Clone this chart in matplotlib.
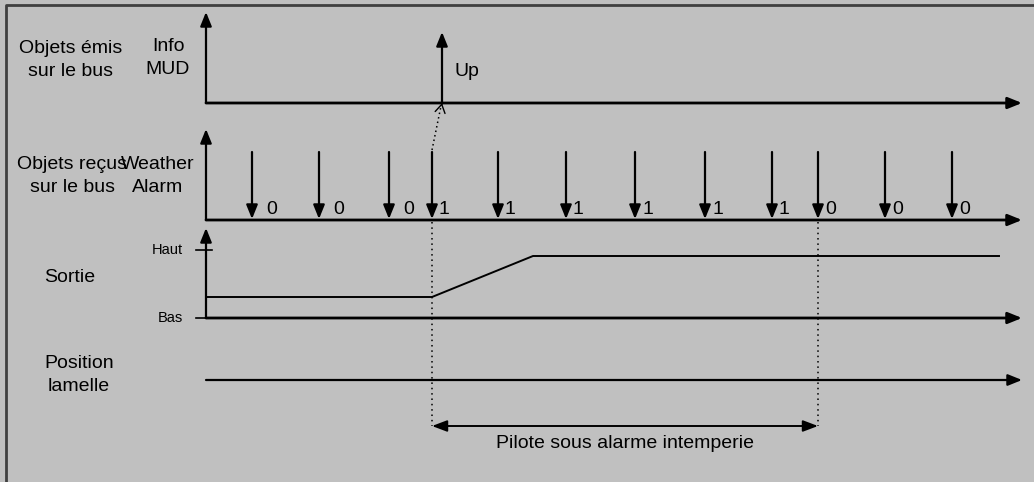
import matplotlib
matplotlib.use("Agg")
import matplotlib.pyplot as plt

plt.rcParams['font.family'] = ['Liberation Sans', 'DejaVu Sans']

# temps des trames "Weather Alarm" recues (en px sur l'axe du temps) et leur valeur
alarm_t = [252, 319, 389, 432, 498, 566, 635, 705, 772, 818, 885, 952]
alarm_val = [0, 0, 0, 1, 1, 1, 1, 1, 1, 0, 0, 0]

# trame "Info MUD" emise
mud_t = 442
mud_txt = "Up"

# sortie: bas -> haut (rampe)
sortie_t = [206, 432, 533, 999]
sortie_y = [297, 297, 256, 256]

# periode sous alarme
alarme_debut = 432
alarme_fin = 818

fig = plt.figure(figsize=(10.34, 4.82), dpi=100)
fig.patch.set_facecolor('#c0c0c0')
ax = fig.add_axes([0, 0, 1, 1])
ax.set_xlim(0, 1034)
ax.set_ylim(482, 0)
ax.axis('off')

# bordure (gauche + haut)
ax.plot([6, 6, 1040], [490, 5, 5], color='#404040', lw=2)

FS = 14
LS = 1.45
x0 = 206
x_end = 1022


def fleche(x1, y1, x2, y2, lw=1.6, style='-|>', ms=20):
    ax.annotate('', xy=(x2, y2), xytext=(x1, y1),
                arrowprops=dict(arrowstyle=style + ',head_length=0.42,head_width=0.17',
                                mutation_scale=ms, lw=lw, color='black',
                                shrinkA=0, shrinkB=0))


# axes des 4 lignes
for yb, ytop in [(103, 12), (220, 129), (318, 228)]:
    fleche(x0, yb, x0, ytop, lw=1.6)
    fleche(x0, yb, x_end, yb, lw=2)
fleche(x0, 380, x_end, 380, lw=1.6)

# libelles
ax.text(71, 60, "Objets émis\nsur le bus", fontsize=FS, ha='center', va='center', linespacing=LS)
ax.text(168, 58, "Info\nMUD", fontsize=FS, ha='center', va='center', linespacing=LS)
ax.text(72, 176, "Objets reçus\nsur le bus", fontsize=FS, ha='center', va='center', linespacing=LS)
ax.text(158, 176, "Weather\nAlarm", fontsize=FS, ha='center', va='center', linespacing=LS)
ax.text(70, 277, "Sortie", fontsize=FS, ha='center', va='center')
ax.text(79, 375, "Position\nlamelle", fontsize=FS, ha='center', va='center', linespacing=LS)

# Info MUD emis
fleche(mud_t, 103, mud_t, 32)
ax.text(mud_t + 12, 72, mud_txt, fontsize=FS, ha='left', va='center')

# Weather Alarm recus
for i, (t, v) in enumerate(zip(alarm_t, alarm_val)):
    fleche(t, 152, t, 219)
    dx = 14 if i < 3 else 7
    ax.text(t + dx, 209, str(v), fontsize=FS, ha='left', va='center')

# lien pointille alarme -> Info MUD
ax.plot([alarme_debut, mud_t - 1], [150, 106], color='black', lw=1.1, ls=(0, (1, 2)))
ax.annotate('', xy=(mud_t, 103), xytext=(mud_t - 0.3, 104.5),
            arrowprops=dict(arrowstyle='->,head_length=0.5,head_width=0.3',
                            mutation_scale=12, lw=1, color='black',
                            shrinkA=0, shrinkB=0))

# Sortie
ax.plot([196, 212], [250, 250], color='black', lw=1.2)
ax.plot([196, 212], [318, 318], color='black', lw=1.2)
ax.text(183, 250, "Haut", fontsize=10.5, ha='right', va='center')
ax.text(183, 318, "Bas", fontsize=10.5, ha='right', va='center')
ax.plot(sortie_t, sortie_y, color='black', lw=1.4)

# periode sous alarme
for t in (alarme_debut, alarme_fin):
    ax.plot([t, t], [222, 426], color='black', lw=1.1, ls=(0, (1, 2.5)))
ax.annotate('', xy=(alarme_fin, 426), xytext=(alarme_debut, 426),
            arrowprops=dict(arrowstyle='<|-|>,head_length=0.45,head_width=0.17',
                            mutation_scale=20, lw=1.4, color='black',
                            shrinkA=0, shrinkB=0))
ax.text((alarme_debut + alarme_fin) / 2, 443, "Pilote sous alarme intemperie",
        fontsize=FS, ha='center', va='center')

fig.savefig("out.png", dpi=100, facecolor=fig.get_facecolor())
